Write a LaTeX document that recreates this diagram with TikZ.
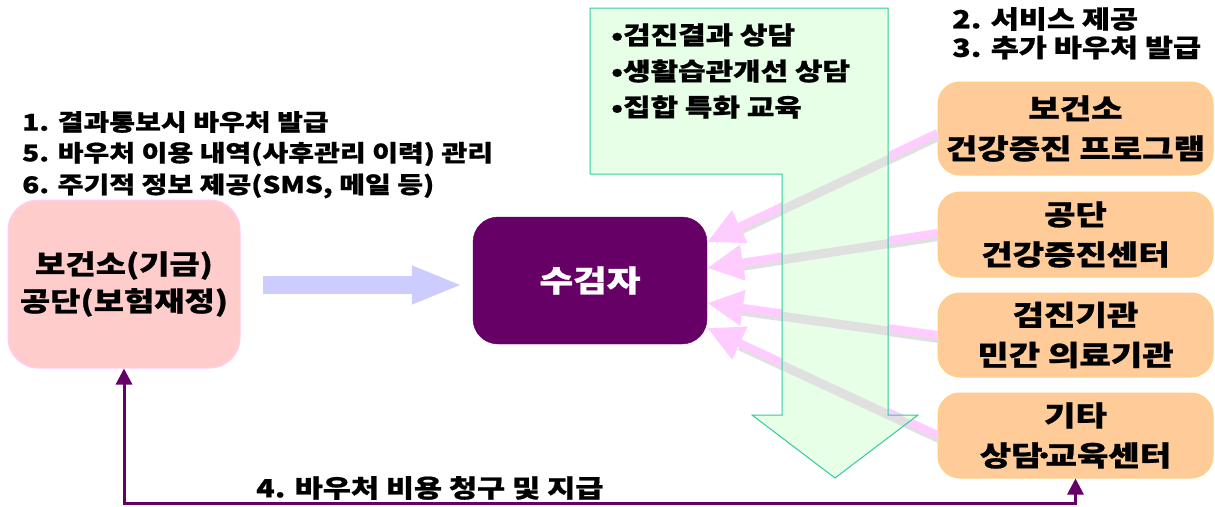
\documentclass[tikz,border=0pt]{standalone}
\usepackage{fontspec}
\setmainfont{Noto Sans CJK KR}[FakeStretch=1.22, BoldFeatures={FakeBold=0.8}]
\usetikzlibrary{arrows.meta,calc}
\definecolor{fundfill}{HTML}{FFCCCC}
\definecolor{fundline}{HTML}{FFCCFF}
\definecolor{recvfill}{HTML}{660066}
\definecolor{grnfill}{HTML}{E6FFE6}
\definecolor{grnline}{HTML}{33CC99}
\definecolor{orgfill}{HTML}{FFCC99}
\definecolor{orgline}{HTML}{FFCC80}
\definecolor{bluearr}{HTML}{CCCCFF}
\definecolor{pinkarr}{HTML}{FFCCFF}
\definecolor{shadowgray}{HTML}{E0E0E0}
\tikzset{
  fundbox/.style={draw=fundline, fill=fundfill, line width=1pt, rounded corners=30pt,
    minimum width=232pt, minimum height=168pt, inner sep=0pt, align=center,
    font=\fontsize{27}{37}\selectfont\bfseries},
  recvbox/.style={draw=recvfill, fill=recvfill, rounded corners=25pt,
    minimum width=234pt, minimum height=127pt, inner sep=0pt, text=white,
    font=\fontsize{30}{37}\selectfont\bfseries},
  orgbox/.style={draw=orgline, fill=orgfill, line width=1pt, rounded corners=22pt,
    minimum width=275pt, inner sep=0pt, align=center,
    font=\fontsize{28}{40}\selectfont\bfseries},
  toptext/.style={anchor=west, inner sep=0pt, font=\fontsize{23}{30}\selectfont\bfseries},
  righttext/.style={anchor=west, inner sep=0pt, font=\fontsize{25}{30}\selectfont\bfseries},
  grntext/.style={anchor=west, inner sep=0pt, font=\fontsize{24.5}{30}\selectfont\bfseries},
  paytext/.style={anchor=west, inner sep=0pt, font=\fontsize{25}{30}\selectfont\bfseries},
  pinkarrow/.style={draw=pinkarr, line width=8pt, -{Triangle[length=36pt,width=34pt]}, pinkarr},
  shadowline/.style={draw=shadowgray, line width=6pt},
  bluearrow/.style={draw=bluearr, line width=18pt, -{Triangle[length=51pt,width=35pt]}, bluearr},
  payline/.style={draw=recvfill, line width=3pt,
    {Triangle[length=16pt,width=16pt]}-{Triangle[length=16pt,width=16pt]}},
}
\begin{document}
\begin{tikzpicture}[x=1pt,y=-1pt]
\useasboundingbox (0,0) rectangle (1215,506);

% nodes
\node[fundbox] (fund) at (124,284) {보건소(기금)\\공단(보험재정)};
\node[recvbox] (recv) at (590,280.5) {수검자};
\node[orgbox, minimum height=93pt] (r1) at (1075.5,128.5) {보건소\\건강증진 프로그램};
\node[orgbox, minimum height=85pt] (r2) at (1075.5,234.5) {공단\\건강증진센터};
\node[orgbox, minimum height=84pt] (r3) at (1075.5,335) {검진기관\\민간 의료기관};
\node[orgbox, minimum height=85pt] (r4) at (1075.5,435.5) {기타\\상담\kern-9pt·\kern-9pt교육센터};

% pink arrows with grey shadows
\coordinate (s1) at ($(r1.west)+(0,4.5)$);
\coordinate (s2) at ($(r2.west)+(0,-1.5)$);
\coordinate (s3) at ($(r3.west)+(0,0)$);
\coordinate (s4) at ($(r4.west)+(0,-0.5)$);
\coordinate (t1) at ($(recv.east)+(0,-38.5)$);
\coordinate (t2) at ($(recv.east)+(0,-12.5)$);
\coordinate (t3) at ($(recv.east)+(0,22.5)$);
\coordinate (t4) at ($(recv.east)+(0,47.5)$);
\foreach \a/\b in {s1/t1,s2/t2,s3/t3,s4/t4}{
  \draw[shadowline] ($(\a)+(1,5)$) -- ($($(\b)!34pt!(\a)$)+(1,5)$);
}
\foreach \a/\b in {s1/t1,s2/t2,s3/t3,s4/t4}{
  \draw[pinkarrow] (\a) -- (\b);
}

% green callout arrow
\path[fill=grnfill] (590,8) -- (888,8) -- (888,415) -- (918,415) -- (835,478)
  -- (752,415) -- (782,415) -- (782,174) -- (590,174) -- cycle;
\begin{scope}
  \clip (590,8) -- (888,8) -- (888,415) -- (918,415) -- (835,478)
    -- (752,415) -- (782,415) -- (782,174) -- (590,174) -- cycle;
  \foreach \a/\b in {s1/t1,s2/t2,s3/t3,s4/t4}{
    \draw[shadowline, line width=9pt] ($(\a)+(1,3)$) -- ($($(\b)!34pt!(\a)$)+(1,3)$);
  }
\end{scope}
\draw[grnline, line width=1pt] (590,8) -- (888,8) -- (888,415) -- (918,415) -- (835,478)
  -- (752,415) -- (782,415) -- (782,174) -- (590,174) -- cycle;
\node[grntext] (g1) at (611,35) {•검진결과 상담};
\node[grntext] (g2) at (611,71) {•생활습관개선 상담};
\node[grntext] (g3) at (611,107) {•집합 특화 교육};

% blue arrow
\draw[bluearrow] ($(fund.east)+(22,1)$) -- ($(fund.east -| recv.west)+(-10,1)$);

% payment connector
\draw[payline] (fund.south) -- ++(0,135) -| (r4.south);
\node[paytext] (pay) at (256,488) {4. 바우처 비용 청구 및 지급};

% texts
\node[toptext] (n1) at (22,122) {1. 결과통보시 바우처 발급};
\node[toptext] (n5) at (22,154) {5. 바우처 이용 내역(사후관리 이력) 관리};
\node[toptext] (n6) at (22,186) {6. 주기적 정보 제공(SMS, 메일 등)};
\node[righttext] (n2) at (952,19) {2. 서비스 제공};
\node[righttext] (n3) at (952,47.5) {3. 추가 바우처 발급};
\end{tikzpicture}
\end{document}
